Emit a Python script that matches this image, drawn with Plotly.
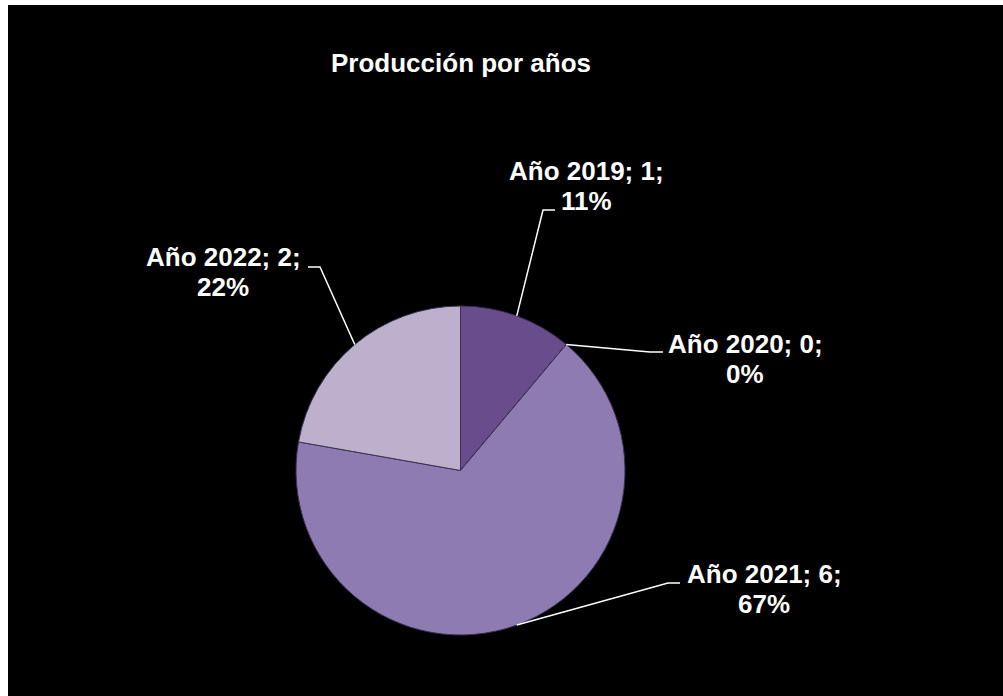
import numpy as np
import plotly.graph_objects as go

# ---- data ----
categories = ["Año 2019", "Año 2020", "Año 2021", "Año 2022"]
values = [1, 0, 6, 2]
slice_colors = ["#684C8B", "#A08CC4", "#8E7BB2", "#BCB0CD"]
title_text = "Producción por años"

# ---- layout constants (pixels) ----
W, H = 1003, 696
CX, CY, R = 460.5, 470.5, 164.5
label_elbows = [(543, 210), (650, 352), (668, 583), (320, 267)]
label_ends = [(555, 210), (663, 352), (680, 583), (308, 267)]
label_centers = [(586, 186), (745, 359), (764, 589), (223, 272)]
LINE_GAP = 30
FONT = "Liberation Sans, Arial, sans-serif"
LABEL_SIZE = 26

total = sum(values)
pcts = [round(v / total * 100) for v in values]

fig = go.Figure()
fig.add_trace(go.Pie(
    labels=categories, values=values, sort=False, direction="clockwise",
    rotation=0, textinfo="none", hoverinfo="label+value+percent",
    marker=dict(colors=slice_colors, line=dict(color="#3A3050", width=1)),
    domain=dict(x=[(CX - R) / W, (CX + R) / W], y=[1 - (CY + R) / H, 1 - (CY - R) / H]),
    showlegend=False,
))

# leader lines from slice mid-angles
cum = np.cumsum([0] + values)
shapes = []
annotations = []
for i, cat in enumerate(categories):
    mid = (cum[i] + cum[i + 1]) / 2 / total * 2 * np.pi
    ex, ey = CX + R * np.sin(mid), CY - R * np.cos(mid)
    bx, by = label_elbows[i]
    tx, ty = label_ends[i]
    shapes.append(dict(type="path", xref="x", yref="y",
                       path=f"M {ex},{ey} L {bx},{by} L {tx},{ty}",
                       line=dict(color="white", width=1.5)))
    lx, ly = label_centers[i]
    lines = [f"{cat}; {values[i]};", f"{pcts[i]}%"]
    for k, txt in enumerate(lines):
        annotations.append(dict(x=lx, y=ly + (k - 0.5) * LINE_GAP, xref="x", yref="y",
                                showarrow=False, text=f"<b>{txt}</b>",
                                font=dict(family=FONT, size=LABEL_SIZE, color="white"),
                                xanchor="center", yanchor="middle"))

annotations.append(dict(x=461, y=63, xref="x", yref="y", showarrow=False,
                        text=f"<b>{title_text}</b>",
                        font=dict(family=FONT, size=26, color="white"),
                        xanchor="center", yanchor="middle"))

# white frame strips on left and top
shapes.append(dict(type="rect", xref="x", yref="y", x0=0, x1=8, y0=0, y1=H,
                   fillcolor="white", line=dict(width=0)))
shapes.append(dict(type="rect", xref="x", yref="y", x0=0, x1=W, y0=0, y1=5,
                   fillcolor="white", line=dict(width=0)))

fig.update_layout(
    width=W, height=H, margin=dict(l=0, r=0, t=0, b=0),
    paper_bgcolor="black", plot_bgcolor="black",
    xaxis=dict(range=[0, W], visible=False, fixedrange=True),
    yaxis=dict(range=[H, 0], visible=False, fixedrange=True),
    shapes=shapes, annotations=annotations,
)
fig.write_html("out.html", config={"displayModeBar": False},
               post_script="document.body.style.margin='0px';document.body.style.overflow='hidden';")
